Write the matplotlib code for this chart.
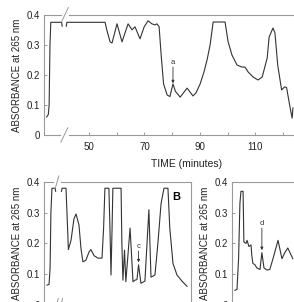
import numpy as np
import matplotlib.pyplot as plt

plt.rcParams['font.family'] = ['Liberation Sans', 'DejaVu Sans']

# top panel: elution profile (time in minutes, absorbance)
top_t_start = [34.7, 35.3, 35.6, 35.9, 36.2, 40.1, 40.3]
top_v_start = [0.060, 0.068, 0.10, 0.30, 0.375, 0.375, 0.362]
top_t = [41.8, 42.0, 55.8, 56.4, 57.6, 58.3, 60.1, 61.9, 64.1, 65.5, 66.6, 68.4,
         69.9, 71.3, 72.7, 73.8, 74.5, 75.3, 76.0, 76.9, 78.2, 79.2, 80.3, 81.2,
         82.9, 85.4, 87.5, 88.6, 90.1, 91.5, 92.6, 93.7, 94.8, 99.1, 100.2, 101.6,
         103.4, 105.2, 106.3, 107.4, 109.2, 111.0, 112.5, 114.3, 115.0, 116.4,
         117.1, 118.1, 119.5, 120.6, 121.3, 122.4, 123.3, 123.6]
top_v = [0.362, 0.375, 0.375, 0.35, 0.31, 0.306, 0.37, 0.31, 0.37, 0.35, 0.36, 0.32,
         0.36, 0.38, 0.37, 0.366, 0.37, 0.36, 0.27, 0.17, 0.133, 0.128, 0.17, 0.145,
         0.126, 0.156, 0.13, 0.14, 0.17, 0.21, 0.25, 0.30, 0.376, 0.376, 0.31, 0.266,
         0.233, 0.226, 0.226, 0.21, 0.193, 0.183, 0.193, 0.256, 0.326, 0.356,
         0.34, 0.233, 0.15, 0.16, 0.158, 0.10, 0.056, 0.09]

# panel B
b_t_start = [31.1, 31.9, 32.3, 32.6, 33.0, 34.2, 34.4]
b_v_start = [0.064, 0.066, 0.12, 0.30, 0.38, 0.38, 0.37]
b_t = [36.6, 36.8, 38.3, 38.9, 39.2, 40.2, 41.3, 42.1, 43.2, 44.0, 44.7, 45.8,
       47.0, 47.7, 48.9, 50.4, 51.9, 52.5, 53.0, 54.5, 54.9, 55.3, 55.7, 56.0,
       59.1, 59.4, 59.8, 60.4, 60.9, 62.5, 63.6, 64.3, 65.1, 65.7, 66.6, 68.1,
       68.9, 69.6, 70.0, 70.4, 71.9, 73.0, 74.2, 75.3, 76.8, 77.5, 78.7, 80.2,
       82.1, 84.0]
b_v = [0.37, 0.38, 0.38, 0.25, 0.18, 0.21, 0.28, 0.296, 0.26, 0.18, 0.14, 0.145,
       0.172, 0.18, 0.16, 0.152, 0.152, 0.25, 0.38, 0.38, 0.25, 0.097, 0.25, 0.38,
       0.38, 0.20, 0.08, 0.178, 0.075, 0.25, 0.075, 0.08, 0.082, 0.13, 0.07, 0.077,
       0.20, 0.31, 0.20, 0.09, 0.097, 0.20, 0.33, 0.38, 0.38, 0.25, 0.135, 0.097,
       0.077, 0.06]

# right panel
r_t = [31.1, 31.9, 32.5, 33.0, 33.4, 34.2, 34.5, 35.3, 35.7, 36.4, 37.2, 37.5,
       37.9, 38.7, 39.4, 40.6, 41.3, 42.1, 43.2, 44.3, 45.5, 47.4, 48.9, 50.0,
       51.1, 53.0]
r_v = [0.047, 0.05, 0.15, 0.33, 0.37, 0.37, 0.205, 0.20, 0.21, 0.19, 0.195, 0.16,
       0.135, 0.13, 0.12, 0.115, 0.17, 0.12, 0.113, 0.115, 0.15, 0.21, 0.15, 0.17,
       0.185, 0.15]

yticks = [0, 0.1, 0.2, 0.3, 0.4]
ytick_labels = ['0', '0.1', '0.2', '0.3', '0.4']
ylabel = 'ABSORBANCE at 265 nm'

line_c = '#333333'
axis_c = '#999999'


def style(ax):
    for s in ax.spines.values():
        s.set_color(axis_c)
        s.set_linewidth(0.8)
    ax.tick_params(direction='in', length=2.5, width=0.7, color=axis_c,
                   labelsize=7, pad=3, labelcolor='#222222')
    ax.tick_params(which='minor', direction='in', length=2.5, width=0.7, color=axis_c)
    ax.set_ylim(0, 0.4)
    ax.set_yticks(yticks)
    ax.set_yticklabels(ytick_labels)
    ax.set_ylabel(ylabel, fontsize=7, labelpad=3, color='#222222')


def brk(ax, xf, yf, w=0.012, h=0.06, gap=0.0):
    if gap:
        ax.plot([xf - gap, xf + gap], [yf, yf], transform=ax.transAxes,
                color='white', lw=2, clip_on=False, zorder=4)
    ax.plot([xf - w, xf + w], [yf - h, yf + h], transform=ax.transAxes,
            color=axis_c, lw=0.7, clip_on=False, zorder=5)


def arrow(ax, t, y0, y1, txt):
    ax.annotate('', xy=(t, y1), xytext=(t, y0),
                arrowprops=dict(arrowstyle='-|>', lw=0.6, color=line_c,
                                mutation_scale=4, shrinkA=0, shrinkB=0))
    ax.text(t, y0 + 0.005, txt, fontsize=5.5, ha='center', va='bottom', color=line_c)


fig = plt.figure(figsize=(2.94, 3.02), dpi=100)

ax1 = fig.add_axes([0.1497, 0.553, 0.973, 0.398])
ax1.plot(top_t_start, top_v_start, color=line_c, lw=0.8)
ax1.plot(top_t, top_v, color=line_c, lw=0.8)
ax1.set_xlim(33.75, 137.0)
ax1.set_xticks([50, 70, 90, 110])
ax1.set_xticks([60, 80, 100, 120], minor=True)
style(ax1)
ax1.tick_params(axis='x', pad=5)
ax1.set_xlabel('TIME (minutes)', fontsize=7.5, labelpad=5, color='#222222')
arrow(ax1, 80.3, 0.226, 0.172, 'a')
brk(ax1, 0.073, 1.0, h=0.06, gap=0.008)
brk(ax1, 0.071, 0.0, h=0.06, gap=0.008)

ax2 = fig.add_axes([0.1497, -0.009, 0.499, 0.406])
ax2.plot(b_t_start, b_v_start, color=line_c, lw=0.8)
ax2.plot(b_t, b_v, color=line_c, lw=0.8)
ax2.set_xlim(30, 85.4)
ax2.set_xticks([50])
ax2.set_xticklabels([])
style(ax2)
ax2.text(0.90, 0.88, 'B', transform=ax2.transAxes, fontsize=8, fontweight='bold',
         ha='center', va='center')
arrow(ax2, 65.7, 0.175, 0.138, 'c')
brk(ax2, 0.089, 1.0, h=0.05, gap=0.012)
brk(ax2, 0.085, 0.0, h=0.05)
brk(ax2, 0.115, 0.0, h=0.05)

ax3 = fig.add_axes([0.789, -0.009, 0.333, 0.406])
ax3.plot(r_t, r_v, color=line_c, lw=0.8)
ax3.set_xlim(30, 67)
ax3.set_xticks([])
style(ax3)
arrow(ax3, 41.3, 0.25, 0.178, 'd')

fig.savefig('out.png', dpi=100)
